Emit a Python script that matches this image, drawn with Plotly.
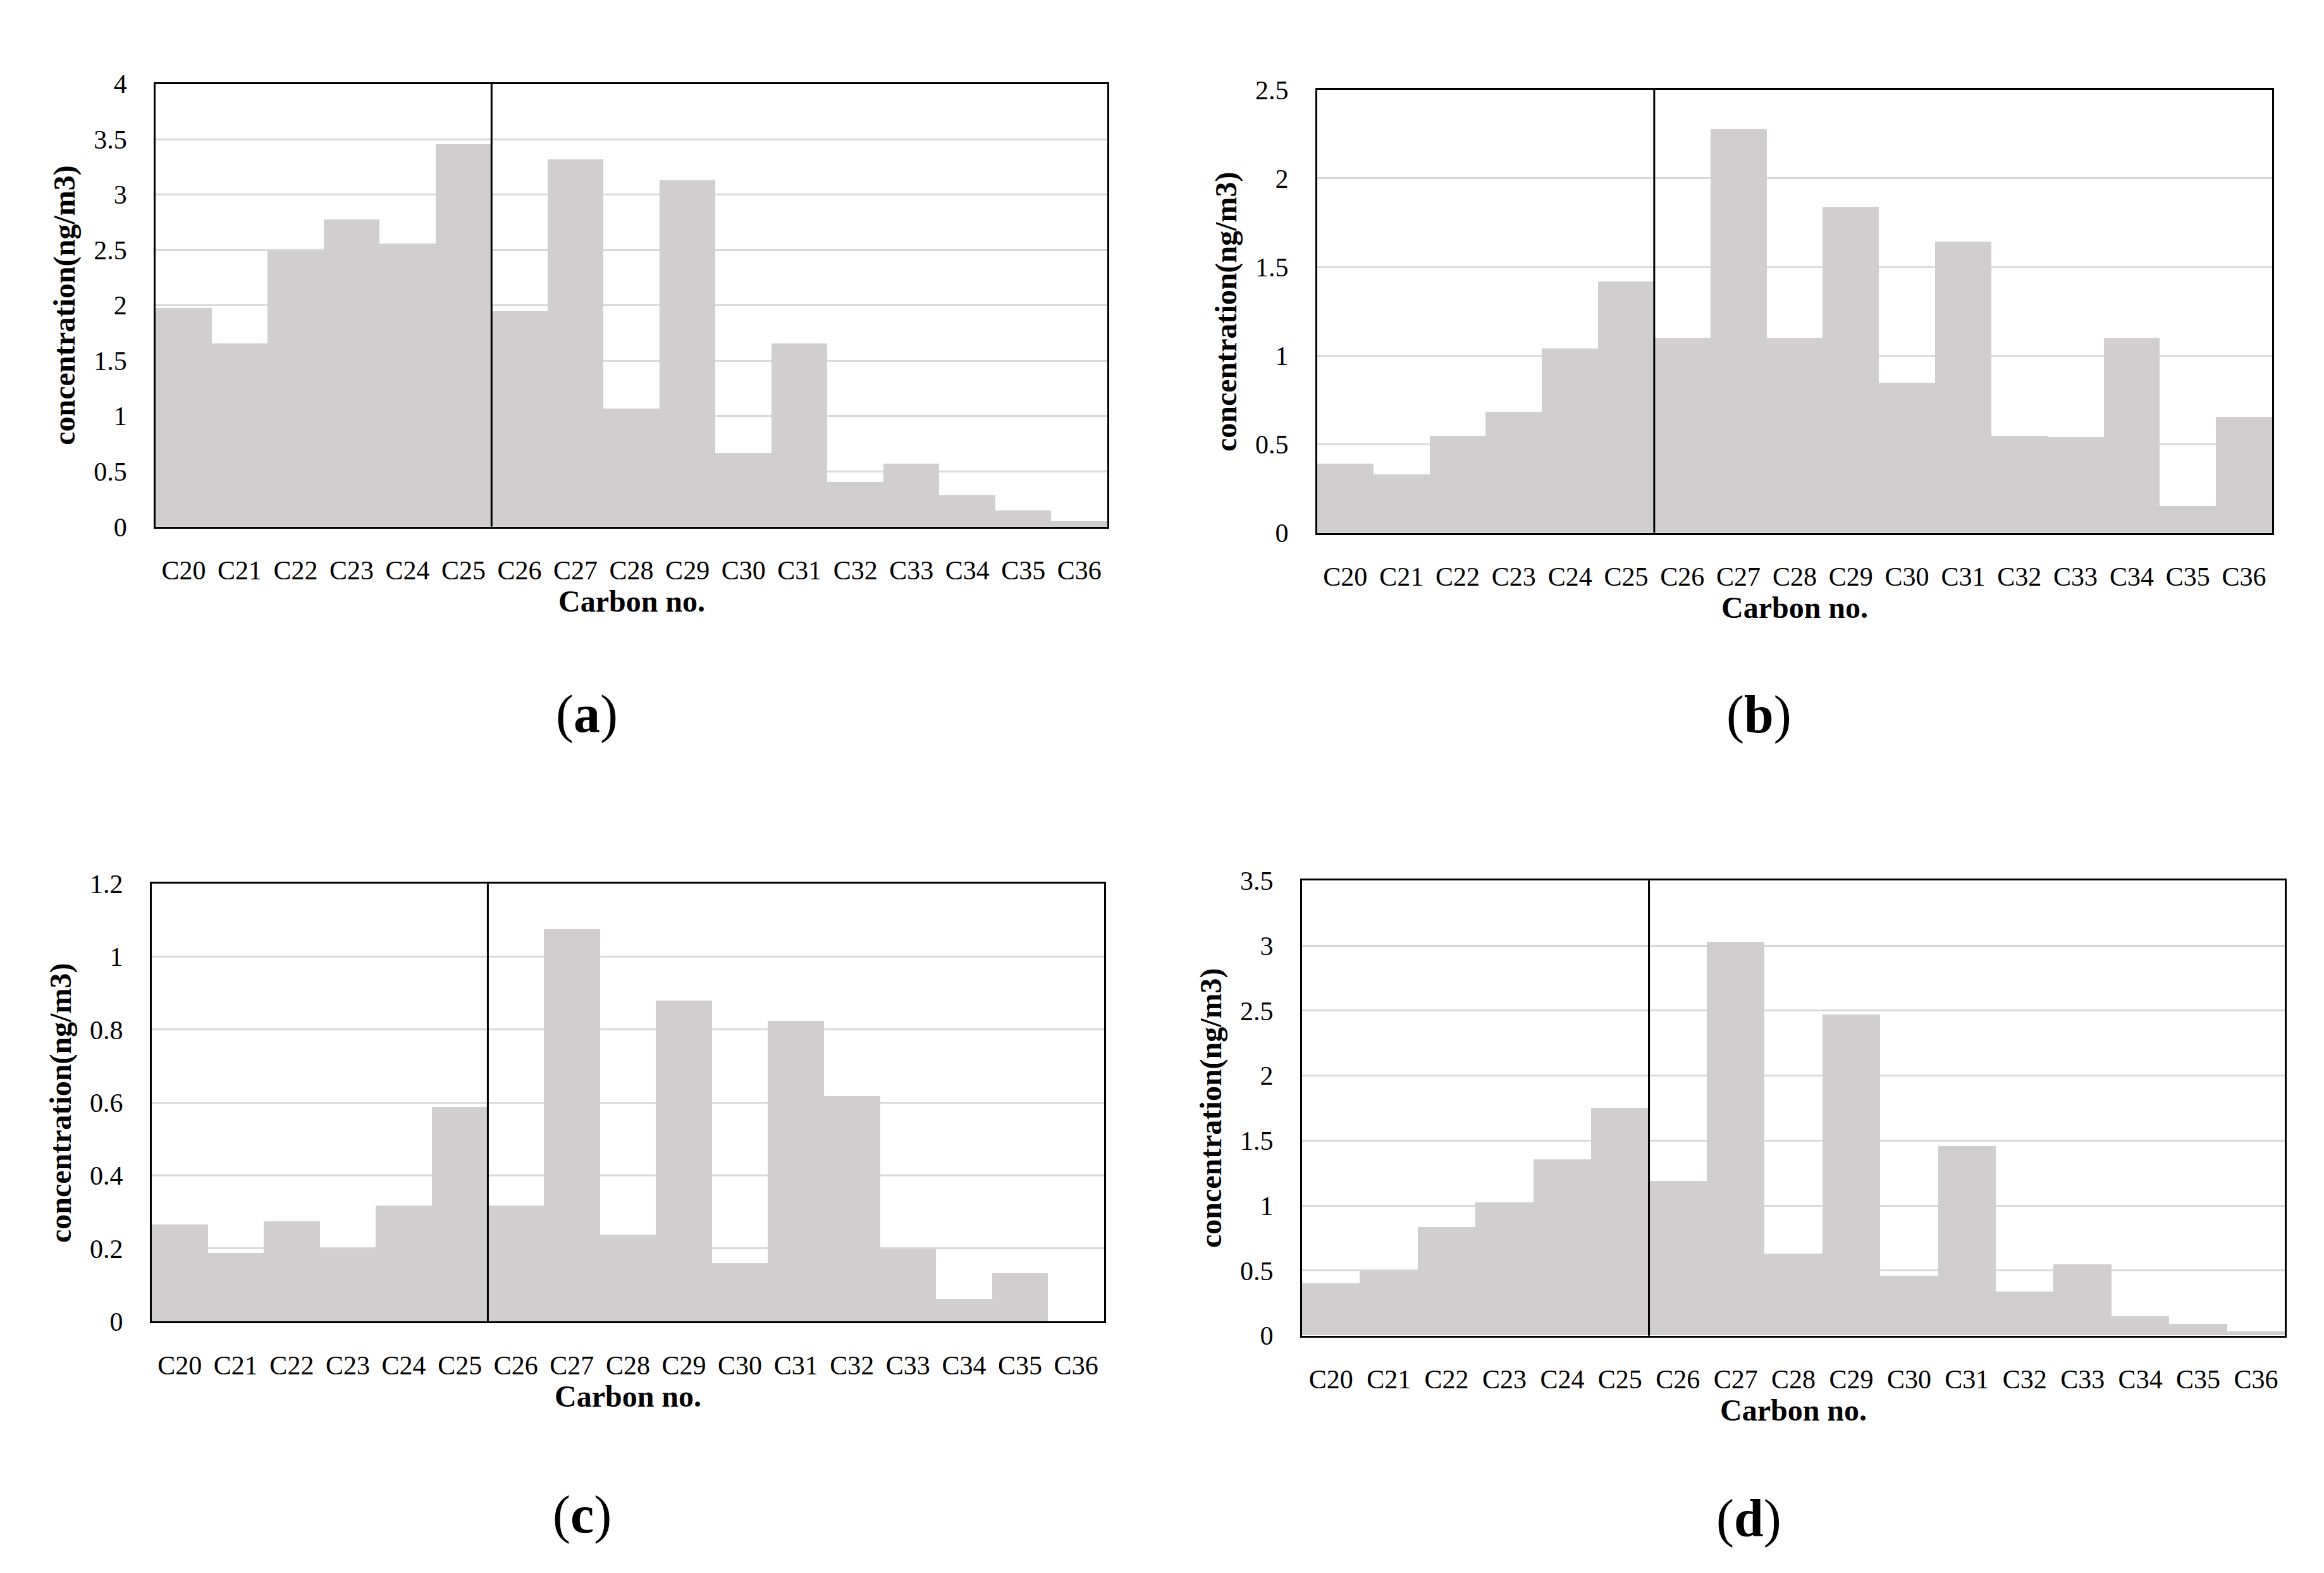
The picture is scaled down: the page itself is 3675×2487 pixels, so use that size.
import plotly.graph_objects as go

carbons = ["C20", "C21", "C22", "C23", "C24", "C25", "C26", "C27", "C28",
           "C29", "C30", "C31", "C32", "C33", "C34", "C35", "C36"]

conc_a = [1.98, 1.66, 2.49, 2.78, 2.56, 3.46, 1.95, 3.32, 1.07, 3.13, 0.67,
          1.66, 0.41, 0.575, 0.29, 0.15, 0.055]
conc_b = [0.39, 0.33, 0.55, 0.685, 1.04, 1.42, 1.10, 2.28, 1.10, 1.84, 0.85,
          1.645, 0.55, 0.54, 1.10, 0.153, 0.655]
conc_c = [0.266, 0.188, 0.274, 0.20, 0.317, 0.588, 0.317, 1.075, 0.238, 0.88,
          0.159, 0.823, 0.617, 0.198, 0.06, 0.131, 0.0]
conc_d = [0.40, 0.50, 0.836, 1.024, 1.355, 1.747, 1.19, 3.03, 0.627, 2.47, 0.46,
          1.457, 0.337, 0.546, 0.15, 0.087, 0.03]

panels = [
    ("a", conc_a, 4.0, 0.5, [0.0648, 0.4743], [0.6711, 0.9580]),
    ("b", conc_b, 2.5, 0.5, [0.5646, 0.9755], [0.6671, 0.9542]),
    ("c", conc_c, 1.2, 0.2, [0.0631, 0.4729], [0.1564, 0.4399]),
    ("d", conc_d, 3.5, 0.5, [0.5581, 0.9810], [0.1472, 0.4419]),
]
panel_label_pos = {"a": (920, 1120), "b": (2773, 1121), "c": (912, 2410), "d": (2757, 2416)}

W, H = 3675, 2487
FONT = "Liberation Serif"
BAR = "#d0cece"

fig = go.Figure()
annotations = []
shapes = []
layout = {}
for i, (name, vals, ymax, dt, xd, yd) in enumerate(panels, start=1):
    xa = "x" if i == 1 else f"x{i}"
    ya = "y" if i == 1 else f"y{i}"
    fig.add_trace(go.Bar(x=carbons, y=vals, marker=dict(color=BAR, line=dict(width=0)),
                         xaxis=xa, yaxis=ya, showlegend=False))
    layout[f"xaxis{'' if i == 1 else i}"] = dict(
        domain=xd, anchor=ya, type="category", showline=True, mirror=True,
        linecolor="black", linewidth=3, showgrid=False, ticks="",
        ticklabelstandoff=30, tickfont=dict(family=FONT, size=42, color="black"),
        fixedrange=True)
    layout[f"yaxis{'' if i == 1 else i}"] = dict(
        domain=yd, anchor=xa, range=[0, ymax], dtick=dt, tick0=0,
        showline=True, mirror=True, linecolor="black", linewidth=3,
        showgrid=True, gridcolor="#d9d9d9", gridwidth=3, zeroline=False,
        ticks="", ticklabelstandoff=34,
        tickfont=dict(family=FONT, size=42, color="black"), fixedrange=True)
    # divider between C25 and C26
    shapes.append(dict(type="line", xref=xa, yref=f"{ya} domain", x0=5.5, x1=5.5,
                       y0=0, y1=1, line=dict(color="black", width=3)))
    # axis titles
    cx = (xd[0] + xd[1]) / 2
    annotations.append(dict(text="<b>Carbon no.</b>", xref="paper", yref="paper",
                            x=cx, y=yd[0] - 120 / H, showarrow=False,
                            font=dict(family=FONT, size=48, color="black"),
                            xanchor="center", yanchor="middle"))
    annotations.append(dict(text="<b>concentration(ng/m3)</b>", xref="paper", yref="paper",
                            x=xd[0] - 144 / W, y=(yd[0] + yd[1]) / 2, showarrow=False,
                            textangle=-90, font=dict(family=FONT, size=48, color="black"),
                            xanchor="center", yanchor="middle"))
    px, py = panel_label_pos[name]
    annotations.append(dict(text=f"(<b>{name}</b>)", xref="paper", yref="paper",
                            x=px / W, y=1 - py / H, showarrow=False,
                            font=dict(family=FONT, size=84, color="black"),
                            xanchor="center", yanchor="middle"))

fig.update_layout(
    width=W, height=H, autosize=False,
    margin=dict(l=0, r=0, t=0, b=0),
    paper_bgcolor="white", plot_bgcolor="white",
    bargap=0, annotations=annotations, shapes=shapes,
    **layout,
)

fig.write_html("out.html")
